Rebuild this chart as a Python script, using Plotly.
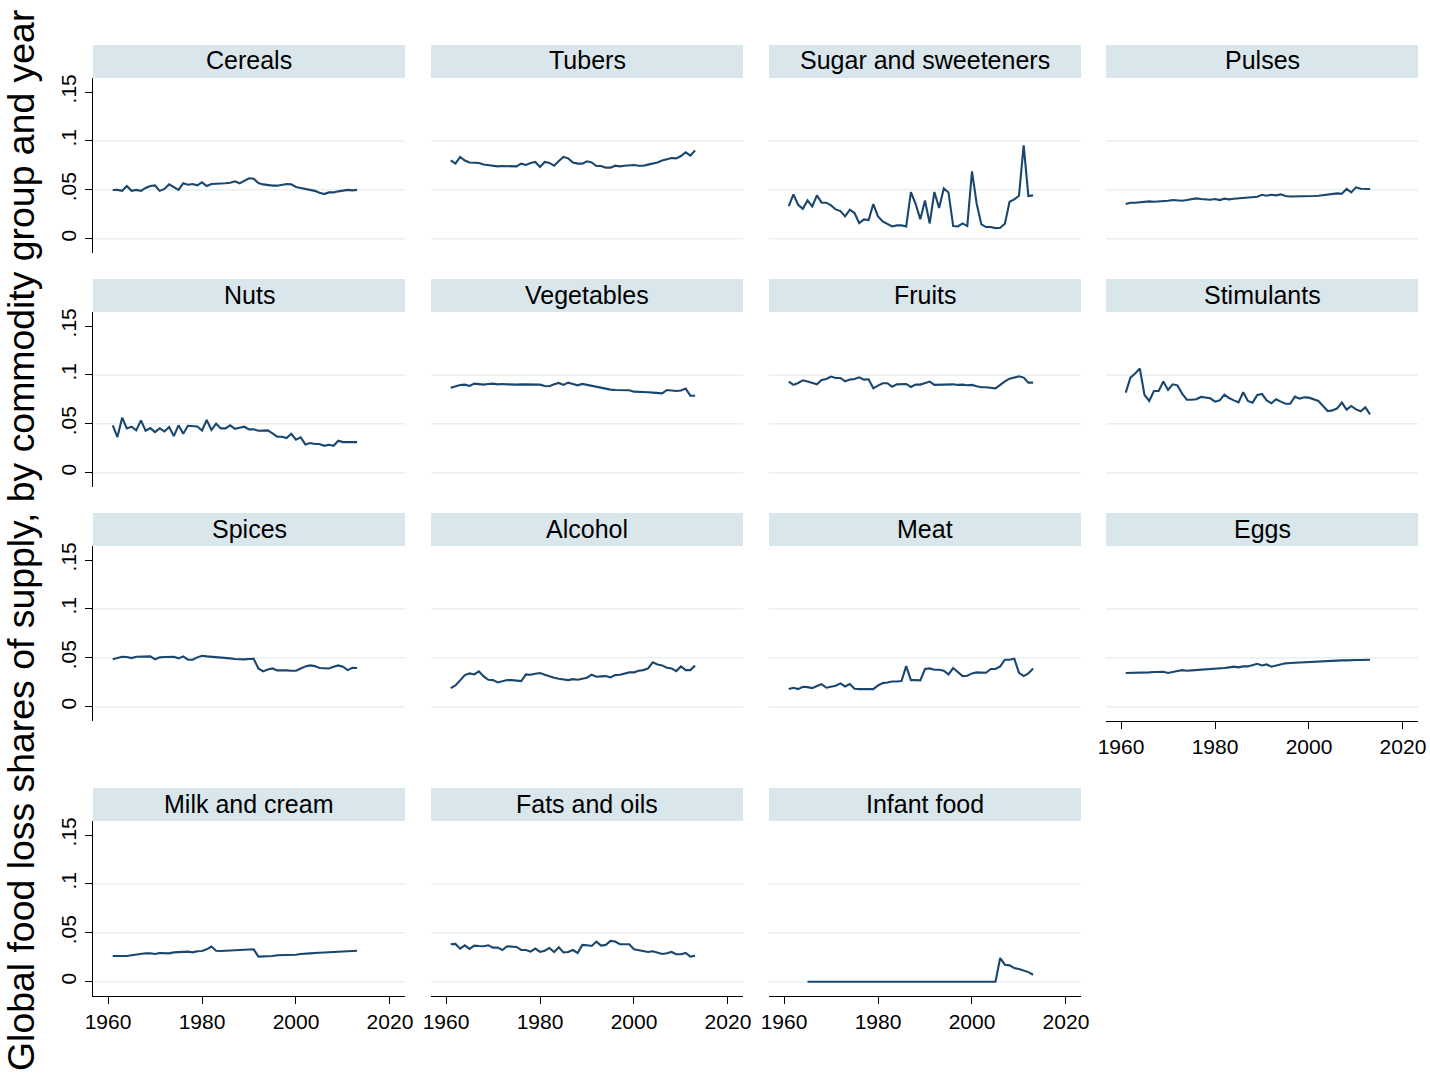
import plotly.graph_objects as go

W, H = 1430, 1082

years = list(range(1961, 2014))
infant_years = list(range(1965, 2014))
x_ticks = [1960, 1980, 2000, 2020]
y_ticks = [0, 0.05, 0.1, 0.15]
y_tick_text = ["0", ".05", ".1", ".15"]
grid_vals = [0, 0.05, 0.1]

cereals = [0.0498, 0.0500, 0.0490, 0.0540, 0.0490, 0.0500, 0.0490, 0.0520, 0.0540, 0.0545,
           0.0490, 0.0510, 0.0556, 0.0530, 0.0500, 0.0567, 0.0553, 0.0560, 0.0546, 0.0577,
           0.0540, 0.0560, 0.0560, 0.0563, 0.0567, 0.0573, 0.0587, 0.0567, 0.0590, 0.0618,
           0.0614, 0.0570, 0.0556, 0.0546, 0.0543, 0.0543, 0.0550, 0.0560, 0.0556, 0.0530,
           0.0520, 0.0510, 0.0500, 0.0490, 0.0470, 0.0457, 0.0474, 0.0474, 0.0485, 0.0495,
           0.0500, 0.0495, 0.0500]
tubers = [0.0802, 0.0768, 0.0836, 0.0800, 0.0780, 0.0775, 0.0775, 0.0760, 0.0754, 0.0747,
          0.0740, 0.0744, 0.0744, 0.0740, 0.0740, 0.0768, 0.0754, 0.0775, 0.0785, 0.0734,
          0.0785, 0.0775, 0.0747, 0.0795, 0.0836, 0.0822, 0.0780, 0.0768, 0.0768, 0.0792,
          0.0780, 0.0744, 0.0744, 0.0727, 0.0727, 0.0747, 0.0740, 0.0747, 0.0750, 0.0754,
          0.0747, 0.0747, 0.0758, 0.0768, 0.0780, 0.0799, 0.0816, 0.0826, 0.0822, 0.0846,
          0.0884, 0.0850, 0.0904]
sugar = [0.0334, 0.0454, 0.0348, 0.0307, 0.0392, 0.0331, 0.0444, 0.0369, 0.0369, 0.0341,
         0.0300, 0.0283, 0.0229, 0.0297, 0.0263, 0.0160, 0.0198, 0.0191, 0.0355, 0.0229,
         0.0177, 0.0147, 0.0126, 0.0137, 0.0137, 0.0126, 0.0478, 0.0358, 0.0201, 0.0392,
         0.0157, 0.0478, 0.0314, 0.0515, 0.0474, 0.0130, 0.0126, 0.0157, 0.0130, 0.0689,
         0.0358, 0.0147, 0.0120, 0.0120, 0.0109, 0.0113, 0.0154, 0.0379, 0.0403, 0.0440,
         0.0956, 0.0437, 0.0444]
pulses = [0.0355, 0.0369, 0.0369, 0.0375, 0.0379, 0.0382, 0.0379, 0.0382, 0.0379, 0.0389,
          0.0396, 0.0392, 0.0389, 0.0396, 0.0406, 0.0413, 0.0406, 0.0399, 0.0399, 0.0406,
          0.0396, 0.0410, 0.0403, 0.0410, 0.0413, 0.0416, 0.0420, 0.0423, 0.0430, 0.0450,
          0.0440, 0.0450, 0.0444, 0.0454, 0.0437, 0.0433, 0.0433, 0.0433, 0.0430, 0.0430,
          0.0437, 0.0440, 0.0447, 0.0447, 0.0454, 0.0464, 0.0461, 0.0509, 0.0474, 0.0526,
          0.0512, 0.0512, 0.0509]
nuts = [0.0485, 0.0365, 0.0563, 0.0454, 0.0471, 0.0433, 0.0536, 0.0430, 0.0457, 0.0416,
        0.0454, 0.0423, 0.0468, 0.0375, 0.0485, 0.0399, 0.0481, 0.0481, 0.0474, 0.0433,
        0.0539, 0.0437, 0.0502, 0.0454, 0.0454, 0.0485, 0.0450, 0.0461, 0.0471, 0.0444,
        0.0444, 0.0430, 0.0430, 0.0433, 0.0403, 0.0369, 0.0369, 0.0355, 0.0399, 0.0338,
        0.0362, 0.0290, 0.0304, 0.0294, 0.0294, 0.0276, 0.0287, 0.0276, 0.0328, 0.0314,
        0.0314, 0.0317, 0.0314]
vegetables = [0.0870, 0.0881, 0.0898, 0.0901, 0.0887, 0.0911, 0.0908, 0.0901, 0.0908, 0.0911,
              0.0904, 0.0908, 0.0904, 0.0901, 0.0901, 0.0904, 0.0904, 0.0908, 0.0904, 0.0901,
              0.0887, 0.0884, 0.0904, 0.0918, 0.0898, 0.0921, 0.0908, 0.0894, 0.0908, 0.0898,
              0.0894, 0.0877, 0.0874, 0.0863, 0.0850, 0.0846, 0.0846, 0.0846, 0.0843, 0.0829,
              0.0829, 0.0829, 0.0823, 0.0819, 0.0819, 0.0812, 0.0846, 0.0840, 0.0836, 0.0840,
              0.0860, 0.0788, 0.0788]
fruits = [0.0932, 0.0898, 0.0918, 0.0945, 0.0932, 0.0921, 0.0904, 0.0949, 0.0959, 0.0983,
          0.0969, 0.0969, 0.0935, 0.0952, 0.0959, 0.0976, 0.0952, 0.0956, 0.0863, 0.0891,
          0.0915, 0.0915, 0.0880, 0.0904, 0.0904, 0.0908, 0.0877, 0.0901, 0.0901, 0.0915,
          0.0932, 0.0898, 0.0901, 0.0904, 0.0901, 0.0904, 0.0898, 0.0901, 0.0894, 0.0898,
          0.0884, 0.0874, 0.0874, 0.0870, 0.0863, 0.0898, 0.0935, 0.0962, 0.0976, 0.0986,
          0.0973, 0.0921, 0.0921]
stimulants = [0.0819, 0.0973, 0.1014, 0.1065, 0.0795, 0.0734, 0.0836, 0.0836, 0.0932, 0.0846,
              0.0904, 0.0894, 0.0809, 0.0747, 0.0747, 0.0751, 0.0775, 0.0771, 0.0761, 0.0727,
              0.0740, 0.0799, 0.0764, 0.0740, 0.0720, 0.0823, 0.0734, 0.0717, 0.0795, 0.0805,
              0.0740, 0.0710, 0.0751, 0.0727, 0.0706, 0.0706, 0.0778, 0.0758, 0.0771, 0.0768,
              0.0747, 0.0734, 0.0683, 0.0631, 0.0638, 0.0659, 0.0717, 0.0645, 0.0683, 0.0648,
              0.0628, 0.0669, 0.0597]
spices = [0.0485, 0.0502, 0.0512, 0.0509, 0.0498, 0.0512, 0.0512, 0.0515, 0.0515, 0.0485,
          0.0505, 0.0509, 0.0509, 0.0512, 0.0495, 0.0515, 0.0481, 0.0481, 0.0505, 0.0522,
          0.0515, 0.0512, 0.0502, 0.0502, 0.0502, 0.0495, 0.0488, 0.0485, 0.0485, 0.0488,
          0.0491, 0.0392, 0.0362, 0.0382, 0.0392, 0.0372, 0.0375, 0.0372, 0.0369, 0.0369,
          0.0392, 0.0413, 0.0423, 0.0416, 0.0396, 0.0392, 0.0392, 0.0410, 0.0423, 0.0410,
          0.0375, 0.0399, 0.0396]
alcohol = [0.0191, 0.0218, 0.0270, 0.0324, 0.0341, 0.0331, 0.0362, 0.0311, 0.0276, 0.0273,
           0.0249, 0.0263, 0.0273, 0.0273, 0.0270, 0.0263, 0.0331, 0.0328, 0.0338, 0.0345,
           0.0328, 0.0311, 0.0297, 0.0287, 0.0280, 0.0273, 0.0283, 0.0276, 0.0287, 0.0297,
           0.0328, 0.0307, 0.0311, 0.0314, 0.0300, 0.0324, 0.0328, 0.0338, 0.0352, 0.0352,
           0.0369, 0.0375, 0.0392, 0.0454, 0.0433, 0.0423, 0.0399, 0.0392, 0.0365, 0.0413,
           0.0375, 0.0375, 0.0423]
meat = [0.0181, 0.0195, 0.0181, 0.0205, 0.0201, 0.0191, 0.0212, 0.0232, 0.0195, 0.0205,
        0.0215, 0.0239, 0.0208, 0.0232, 0.0184, 0.0181, 0.0181, 0.0188, 0.0181, 0.0218,
        0.0242, 0.0249, 0.0259, 0.0259, 0.0263, 0.0416, 0.0273, 0.0273, 0.0270, 0.0386,
        0.0392, 0.0379, 0.0379, 0.0369, 0.0331, 0.0396, 0.0355, 0.0314, 0.0317, 0.0341,
        0.0352, 0.0348, 0.0348, 0.0386, 0.0386, 0.0413, 0.0481, 0.0481, 0.0491, 0.0348,
        0.0314, 0.0341, 0.0392]
eggs = [0.0345, 0.0345, 0.0345, 0.0345, 0.0348, 0.0352, 0.0355, 0.0358, 0.0358, 0.0345,
        0.0358, 0.0365, 0.0375, 0.0369, 0.0372, 0.0375, 0.0375, 0.0379, 0.0382, 0.0389,
        0.0392, 0.0396, 0.0403, 0.0410, 0.0403, 0.0413, 0.0413, 0.0423, 0.0440, 0.0423,
        0.0433, 0.0410, 0.0423, 0.0433, 0.0444, 0.0447, 0.0450, 0.0454, 0.0457, 0.0460,
        0.0460, 0.0464, 0.0464, 0.0468, 0.0468, 0.0471, 0.0474, 0.0474, 0.0478, 0.0478,
        0.0478, 0.0481, 0.0481]
milk = [0.0264, 0.0264, 0.0260, 0.0264, 0.0271, 0.0277, 0.0288, 0.0291, 0.0291, 0.0284,
        0.0295, 0.0291, 0.0291, 0.0301, 0.0305, 0.0305, 0.0308, 0.0301, 0.0312, 0.0315,
        0.0332, 0.0360, 0.0318, 0.0315, 0.0318, 0.0318, 0.0325, 0.0325, 0.0332, 0.0332,
        0.0332, 0.0257, 0.0257, 0.0257, 0.0264, 0.0271, 0.0271, 0.0271, 0.0277, 0.0277,
        0.0284, 0.0284, 0.0291, 0.0295, 0.0298, 0.0301, 0.0305, 0.0305, 0.0308, 0.0308,
        0.0312, 0.0315, 0.0318]
fats = [0.0384, 0.0387, 0.0339, 0.0373, 0.0336, 0.0370, 0.0366, 0.0363, 0.0373, 0.0349,
        0.0349, 0.0325, 0.0363, 0.0363, 0.0356, 0.0325, 0.0325, 0.0308, 0.0339, 0.0305,
        0.0318, 0.0346, 0.0305, 0.0353, 0.0301, 0.0305, 0.0325, 0.0295, 0.0377, 0.0373,
        0.0366, 0.0411, 0.0370, 0.0377, 0.0418, 0.0411, 0.0384, 0.0384, 0.0384, 0.0332,
        0.0322, 0.0318, 0.0305, 0.0312, 0.0298, 0.0284, 0.0291, 0.0305, 0.0281, 0.0281,
        0.0295, 0.0257, 0.0267]
infant = [0.0, 0.0, 0.0, 0.0, 0.0, 0.0, 0.0, 0.0, 0.0, 0.0,
          0.0, 0.0, 0.0, 0.0, 0.0, 0.0, 0.0, 0.0, 0.0, 0.0,
          0.0, 0.0, 0.0, 0.0, 0.0, 0.0, 0.0, 0.0, 0.0, 0.0,
          0.0, 0.0, 0.0, 0.0, 0.0, 0.0, 0.0, 0.0, 0.0, 0.0,
          0.0, 0.0243, 0.0175, 0.0168, 0.0140, 0.0130, 0.0116, 0.0099, 0.0072]

panel_names = ["Cereals", "Tubers", "Sugar and sweeteners", "Pulses",
               "Nuts", "Vegetables", "Fruits", "Stimulants",
               "Spices", "Alcohol", "Meat", "Eggs",
               "Milk and cream", "Fats and oils", "Infant food"]
panel_x = [years] * 14 + [infant_years]
panel_y = [cereals, tubers, sugar, pulses, nuts, vegetables, fruits, stimulants,
           spices, alcohol, meat, eggs, milk, fats, infant]
y_title = "Global food loss shares of supply, by commodity group and year"

# layout geometry (pixels)
col_px = [(93, 405), (431, 743), (769, 1081), (1106, 1418)]
row_px = [(78, 253), (312, 487), (546, 721), (821, 996)]
strip_h = 33
x_range = [1956.8, 2023.2]
y_range = [-0.0145, 0.1643]
bottom_panels = {11, 12, 13, 14}

FONT = "Liberation Sans, Arial, Helvetica, sans-serif"
LINE_COLOR = "#1a476f"
STRIP_COLOR = "#d9e6eb"
GRID_COLOR = "#e8f0f2"

fig = go.Figure()
shapes = []
annotations = []
layout_axes = {}

for i, name in enumerate(panel_names):
    n = i + 1
    r, c = divmod(i, 4)
    x0, x1 = col_px[c]
    y0, y1 = row_px[r]
    xs = "" if n == 1 else str(n)
    xa, ya = "xaxis" + xs, "yaxis" + xs
    xref, yref = "x" + xs, "y" + xs

    fig.add_trace(go.Scatter(x=panel_x[i], y=panel_y[i], mode="lines",
                             line=dict(color=LINE_COLOR, width=2.1),
                             xaxis=xref, yaxis=yref, showlegend=False,
                             hoverinfo="x+y"))

    has_x = i in bottom_panels
    has_y = c == 0
    layout_axes[xa] = dict(
        domain=[x0 / W, x1 / W], range=x_range, anchor=yref, automargin=False,
        showgrid=False, zeroline=False,
        showline=has_x, linecolor="black", linewidth=1.3,
        ticks="outside" if has_x else "", ticklen=7, tickwidth=1.3, tickcolor="black",
        tickvals=x_ticks, showticklabels=has_x,
        tickfont=dict(size=21, color="black", family=FONT),
    )
    layout_axes[ya] = dict(
        domain=[1 - y1 / H, 1 - y0 / H], range=y_range, anchor=xref, automargin=False,
        showgrid=False, zeroline=False,
        showline=has_y, linecolor="black", linewidth=1.3,
        ticks="outside" if has_y else "", ticklen=7, tickwidth=1.3, tickcolor="black",
        tickvals=y_ticks, ticktext=y_tick_text, tickangle=-90,
        showticklabels=has_y,
        tickfont=dict(size=21, color="black", family=FONT),
    )

    # horizontal grid lines
    for g in grid_vals:
        shapes.append(dict(type="line", xref=xref + " domain", yref=yref,
                           x0=0, x1=1, y0=g, y1=g, layer="below",
                           line=dict(color=GRID_COLOR, width=1.5)))
    # strip
    shapes.append(dict(type="rect", xref="paper", yref="paper",
                       x0=x0 / W, x1=x1 / W,
                       y0=1 - y0 / H, y1=1 - (y0 - strip_h) / H,
                       fillcolor=STRIP_COLOR, line=dict(width=0), layer="below"))
    annotations.append(dict(text=name, xref="paper", yref="paper",
                            x=(x0 + x1) / 2 / W, y=1 - (y0 - strip_h / 2 - 1) / H,
                            xanchor="center", yanchor="middle", showarrow=False,
                            font=dict(size=25, color="black", family=FONT)))

annotations.append(dict(text=y_title, xref="paper", yref="paper",
                        x=21 / W, y=1 - 541 / H, xanchor="center", yanchor="middle",
                        textangle=-90, showarrow=False,
                        font=dict(size=37.4, color="black", family=FONT)))

fig.update_layout(
    width=W, height=H,
    margin=dict(l=0, r=0, t=0, b=0, autoexpand=False),
    paper_bgcolor="white", plot_bgcolor="white",
    font=dict(family=FONT, color="black"),
    shapes=shapes, annotations=annotations,
    showlegend=False,
    **layout_axes,
)

fig.write_html("out.html",
               config={"displayModeBar": False},
               post_script="document.body.style.margin='0px';"
                           "document.body.style.overflow='hidden';")
